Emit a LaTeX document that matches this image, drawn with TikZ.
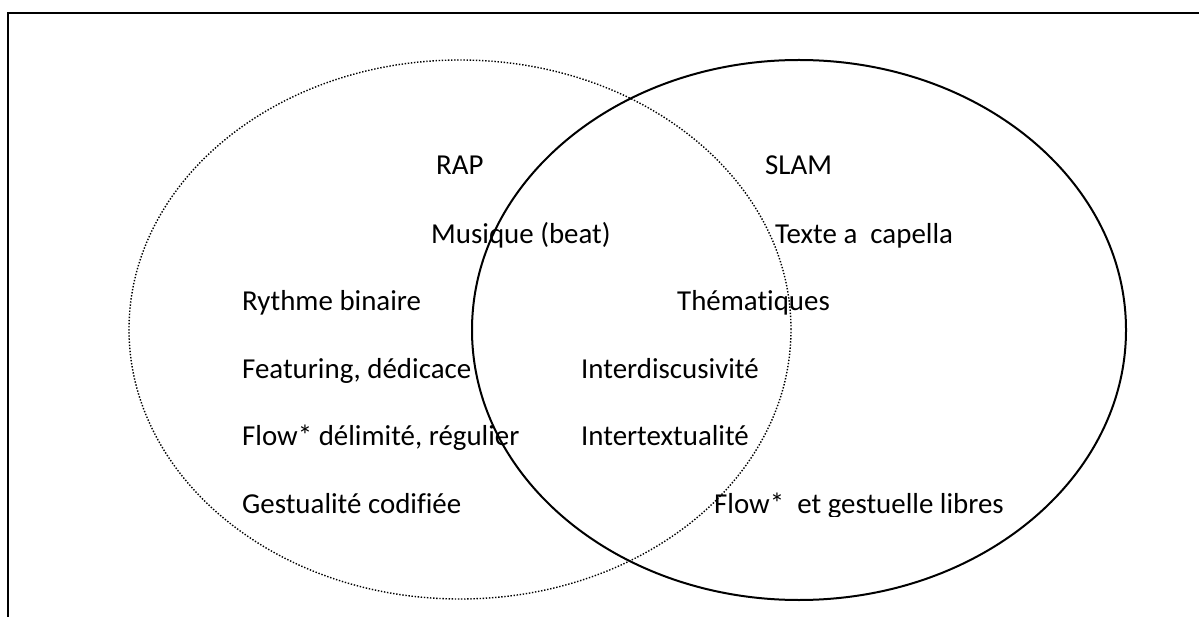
\documentclass[tikz,border=0pt]{standalone}
\usepackage{fontspec}
\setmainfont{Carlito}[Ligatures={NoCommon}]
\begin{document}
\begin{tikzpicture}[x=1pt,y=-1pt,
  lbl/.style={anchor=base west, inner sep=0pt, font=\fontsize{28.9}{34}\selectfont},
  frame/.style={line width=2pt, line join=miter},
  rapset/.style={line width=1.4pt, dash pattern=on 1.4pt off 1.7pt},
  slamset/.style={line width=2pt}]
\useasboundingbox (0,0) rectangle (1199,617);
\draw[frame] (8,620) -- (8,13) -- (1202,13);
\draw[rapset] (460,329.5) ellipse [x radius=331pt, y radius=269.5pt];
\draw[slamset] (799,330) ellipse [x radius=327pt, y radius=270pt];
\node[lbl] (rap) at (436,175) {RAP};
\node[lbl] (slam) at (765,175) {SLAM};
\node[lbl] (musique) at (431,243.5) {Musique (beat)};
\node[lbl] (texte) at (775,243.5) {Texte a\ \ capella};
\node[lbl] (rythme) at (242,311) {Rythme binaire};
\node[lbl] (themes) at (677,311) {Thématiques};
\node[lbl] (feat) at (242,378) {Featuring, dédicace};
\node[lbl] (interd) at (581,378) {Interdiscusivité};
\node[lbl] (flowd) at (242,445.5) {Flow* délimité, régulier};
\node[lbl] (intert) at (581,445.5) {Intertextualité};
\begin{scope}
\clip (0,0) rectangle (1199,516);
\node[lbl] (gest) at (242,513) {Gestualité codifiée};
\node[lbl] (flowl) at (714,513) {Flow*\ \ et gestuelle libres};
\end{scope}
\end{tikzpicture}
\end{document}
